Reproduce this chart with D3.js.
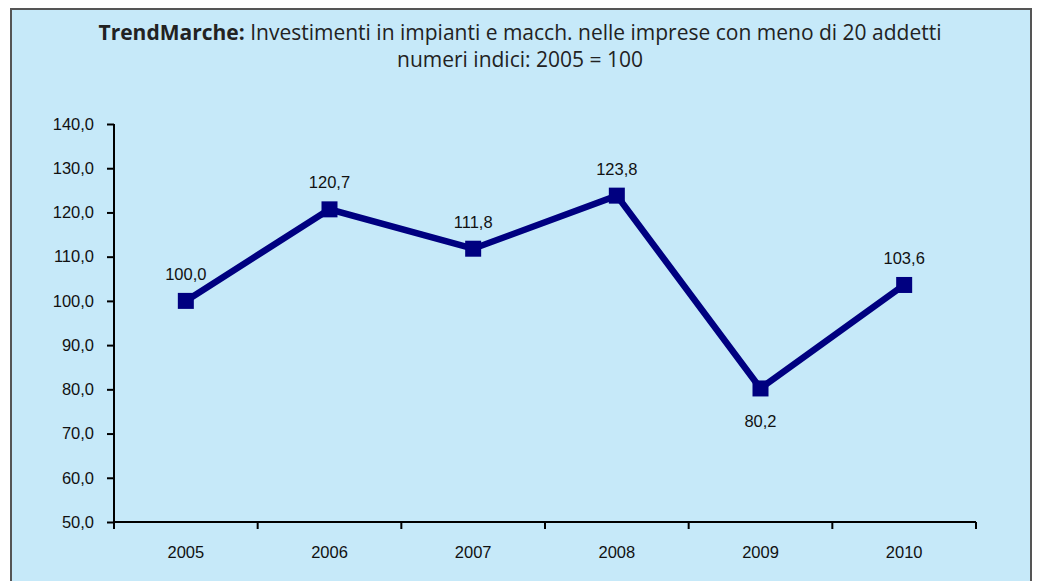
<!DOCTYPE html>
<html>
<head>
<meta charset="utf-8">
<script src="https://cdn.jsdelivr.net/npm/d3@7"></script>
<style>
  body { margin: 0; background: #fff; }
  svg { display: block; }
  .title { font-family: "Open Sans", sans-serif; font-size: 21px; fill: #222; }
</style>
</head>
<body>
<svg id="chart" width="1038" height="581"></svg>
<script>
const years = ['2005', '2006', '2007', '2008', '2009', '2010'];
const values = [100.0, 120.7, 111.8, 123.8, 80.2, 103.6];
const yTicks = [50, 60, 70, 80, 90, 100, 110, 120, 130, 140];
const labelBelow = [false, false, false, false, true, false];

const fmt = v => v.toFixed(1).replace('.', ',');
const labelFont = '"Liberation Sans", Arial, sans-serif';

const svg = d3.select('#chart');

// panel: fill down to the bottom edge, border on top, left and right only
svg.append('rect')
  .attr('x', 11).attr('y', 9)
  .attr('width', 1020).attr('height', 572)
  .attr('fill', '#c6e9f9');
svg.append('path')
  .attr('d', 'M11,581V9H1031V581')
  .attr('fill', 'none')
  .attr('stroke', '#555')
  .attr('stroke-width', 2);

const title = svg.append('text')
  .attr('class', 'title')
  .attr('text-anchor', 'middle')
  .attr('x', 520).attr('y', 40);
title.append('tspan').attr('font-weight', 'bold').text('TrendMarche:');
title.append('tspan').text(' Investimenti in impianti e macch. nelle imprese con meno di 20 addetti');

svg.append('text')
  .attr('class', 'title')
  .attr('text-anchor', 'middle')
  .attr('x', 520).attr('y', 67)
  .text('numeri indici: 2005 = 100');

const margin = { left: 114, top: 124 };
const innerWidth = 976 - 114;
const innerHeight = 522 - 124;

const g = svg.append('g')
  .attr('transform', `translate(${margin.left},${margin.top})`);

const xScale = d3.scaleBand().domain(years).range([0, innerWidth]);
const yScale = d3.scaleLinear().domain([50, 140]).range([innerHeight, 0]);

const xAxis = d3.axisBottom(xScale).tickSize(0).tickPadding(24);
const yAxis = d3.axisLeft(yScale).tickValues(yTicks).tickFormat(fmt)
  .tickSize(7).tickPadding(13);

const xAxisG = g.append('g')
  .attr('transform', `translate(0,${innerHeight})`)
  .call(xAxis)
  .attr('font-family', labelFont)
  .attr('font-size', 16.5);
xAxisG.select('.domain').remove();
xAxisG.selectAll('.tick text').attr('fill', '#111');
xAxisG.append('line')
  .attr('x1', 0).attr('x2', innerWidth)
  .attr('stroke', '#000').attr('stroke-width', 2);
xAxisG.selectAll('.sep')
  .data(d3.range(years.length + 1))
  .enter().append('line')
  .attr('class', 'sep')
  .attr('x1', i => i * xScale.step()).attr('x2', i => i * xScale.step())
  .attr('y1', 0).attr('y2', 7)
  .attr('stroke', '#000').attr('stroke-width', 2);

const yAxisG = g.append('g')
  .call(yAxis)
  .attr('font-family', labelFont)
  .attr('font-size', 16.5);
yAxisG.select('.domain').remove();
yAxisG.selectAll('.tick text').attr('fill', '#111');
yAxisG.append('line')
  .attr('y1', 0).attr('y2', innerHeight)
  .attr('stroke', '#000').attr('stroke-width', 2);
yAxisG.selectAll('.tick line').attr('stroke-width', 2);

const cx = i => xScale(years[i]) + xScale.bandwidth() / 2;

const line = d3.line()
  .x((d, i) => cx(i))
  .y(d => yScale(d));

g.append('path')
  .datum(values)
  .attr('fill', 'none')
  .attr('stroke', '#000080')
  .attr('stroke-width', 6.5)
  .attr('stroke-linejoin', 'miter')
  .attr('d', line);

g.selectAll('.marker').data(values)
  .enter().append('rect')
  .attr('class', 'marker')
  .attr('x', (d, i) => cx(i) - 8)
  .attr('y', d => yScale(d) - 8)
  .attr('width', 16).attr('height', 16)
  .attr('fill', '#000080');

g.selectAll('.lbl').data(values)
  .enter().append('text')
  .attr('class', 'lbl')
  .attr('x', (d, i) => cx(i))
  .attr('y', (d, i) => yScale(d) + (labelBelow[i] ? 39 : -21))
  .attr('text-anchor', 'middle')
  .attr('font-family', labelFont)
  .attr('font-size', 16.5)
  .attr('fill', '#111')
  .text(fmt);
</script>
</body>
</html>
